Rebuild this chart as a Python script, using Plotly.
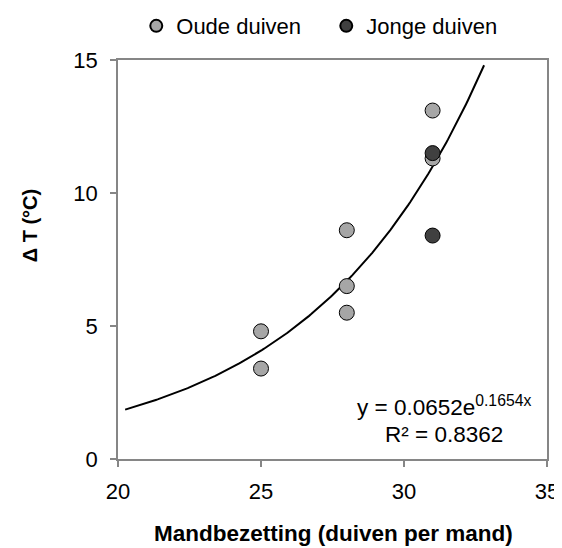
import numpy as np
import plotly.graph_objects as go

# Data
oude_x = [25, 25, 28, 28, 28, 31, 31]
oude_y = [4.8, 3.4, 8.6, 6.5, 5.5, 13.1, 11.3]
jonge_x = [31, 31]
jonge_y = [11.5, 8.4]

# Exponential trendline shown on the chart
trend_a = 0.0652
trend_b = 0.1654
trend_x_range = [20.25, 32.8]

x_ticks = [20, 25, 30, 35]
y_ticks = [0, 5, 10, 15]

FONT = "Liberation Sans, Arial, sans-serif"
FS = 22

tx = np.linspace(trend_x_range[0], trend_x_range[1], 200)
ty = trend_a * np.exp(trend_b * tx)

fig = go.Figure()
fig.add_trace(go.Scatter(
    x=tx, y=ty, mode="lines", line=dict(color="black", width=2),
    showlegend=False, hoverinfo="skip"))
fig.add_trace(go.Scatter(
    x=oude_x, y=oude_y, mode="markers", name="Oude duiven",
    marker=dict(size=15, color="#a6a6a6", line=dict(color="black", width=1))))
fig.add_trace(go.Scatter(
    x=jonge_x, y=jonge_y, mode="markers", name="Jonge duiven",
    marker=dict(size=15, color="#404040", line=dict(color="black", width=1))))

# page offset: the browser body has an 8px margin
OFF = 8

# annotations positioned in reference-picture pixels (converted below)
px_annots = [
    dict(x=444.5, y=406, text="y = 0.0652e<sup>0.1654x</sup>", size=22.5, angle=0),
    dict(x=444.5, y=435, text="R² = 0.8362", size=22.5, angle=0),
    dict(x=29, y=226, text="<b>Δ T (°C)</b>", size=20, angle=-90),
    dict(x=334, y=534, text="<b>Mandbezetting (duiven per mand)</b>", size=22.5, angle=0),
]

axis_common = dict(
    showgrid=False, zeroline=False, showline=True, linecolor="#868686",
    linewidth=1.5, mirror=True, ticks="outside", ticklen=6, tickcolor="#868686",
    tickwidth=1.5, tickfont=dict(family=FONT, size=FS, color="black"))

W, H = 562, 548
L = 117.7 - OFF
T = 60 - OFF
R = W - (547.3 - OFF)
B = H - (459.3 - OFF)
pw, ph = W - L - R, H - T - B

for a in px_annots:
    fig.add_annotation(
        x=(a["x"] - OFF - L) / pw, y=(H - B - (a["y"] - OFF)) / ph,
        xref="paper", yref="paper", xanchor="center", yanchor="middle",
        showarrow=False, textangle=a["angle"], text=a["text"],
        font=dict(family=FONT, size=a["size"], color="black"))

legend_top_px = 0 - OFF - 3
fig.update_layout(
    width=W, height=H,
    margin=dict(l=L, r=R, t=T, b=B, autoexpand=False),
    paper_bgcolor="white", plot_bgcolor="white",
    font=dict(family=FONT, size=FS, color="black"),
    xaxis=dict(range=[20, 35], tickvals=x_ticks, ticktext=[str(v) for v in x_ticks],
               ticklabelstandoff=6, **axis_common),
    yaxis=dict(range=[0, 15], tickvals=y_ticks, ticktext=[str(v) for v in y_ticks],
               ticklabelstandoff=8, **axis_common),
    legend=dict(orientation="h", x=(136 - OFF - L) / pw,
                y=1 + (T - legend_top_px - OFF) / ph,
                xanchor="left", yanchor="top",
                font=dict(family=FONT, size=FS), itemsizing="constant",
                entrywidth=145, traceorder="normal", bgcolor="rgba(0,0,0,0)"),
)

fig.write_html("out.html")
